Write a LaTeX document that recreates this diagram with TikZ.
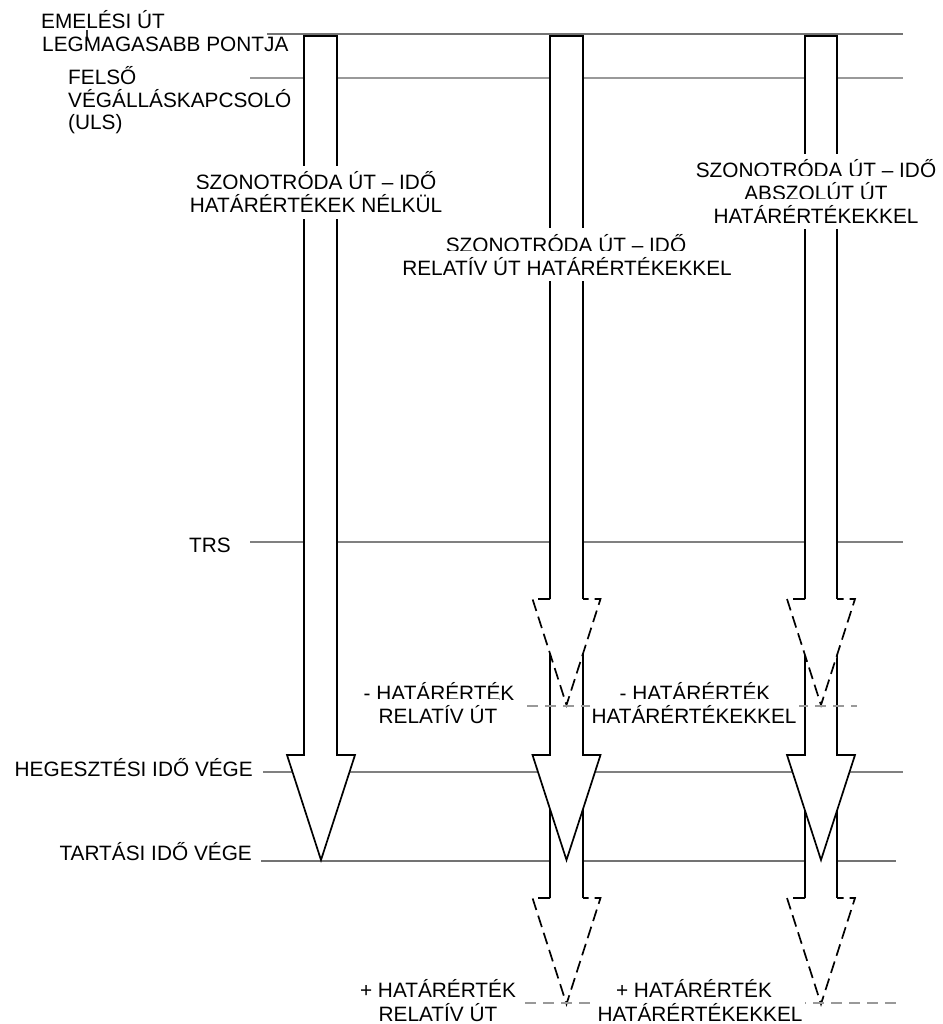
\documentclass[tikz,border=0pt]{standalone}
\usepackage{fontspec}
\setmainfont{Liberation Sans}
\begin{document}
\begin{tikzpicture}[x=1pt,y=-1pt,
  gline/.style={draw=black!50, line width=1.3pt},
  aline/.style={draw=black, line width=1.7pt, line join=miter},
  adash/.style={aline, dash pattern=on 12pt off 6pt},
  gdash/.style={draw=black!40, line width=1.3pt, dash pattern=on 11pt off 7pt},
  lbl/.style={font=\fontsize{20.8}{23}\selectfont, inner sep=0pt, anchor=base},
  lblw/.style={lbl, fill=white, inner xsep=2pt, inner ysep=6pt},
]
\useasboundingbox (0,0) rectangle (942,1024);

% ---------- level lines (under the arrows)
\coordinate (topA) at (267,34);  \coordinate (topB) at (903,34);
\coordinate (ulsA) at (250,78);  \coordinate (ulsB) at (903,78);
\coordinate (trsA) at (250,542); \coordinate (trsB) at (903,542);
\coordinate (hegA) at (263,772); \coordinate (hegB) at (903,772);
\coordinate (tarA) at (261,861); \coordinate (tarB) at (896,861);
\draw[gline, line width=1.8pt, draw=black!55] (topA) -- (topB);
\draw[gline, draw=black!40] (ulsA) -- (ulsB);
\draw[gline] (trsA) -- (trsB);
\draw[gline] (hegA) -- (hegB);
\draw[gline, line width=2pt, draw=black!55] (tarA) -- (tarB);

% ---------- arrow 1 (no limits)
\draw[aline, fill=white] (304,36) -- (337,36) -- (337,755) -- (355,755)
  -- (321,860) -- (287,755) -- (304,755) -- cycle;

% ---------- arrow 2 (relative limits), cx = 566.5
% lower (+ limit) part
\fill[white] (550,780) -- (583,780) -- (583,898) -- (600.5,898) -- (566.5,1004)
  -- (532.5,898) -- (550,898) -- cycle;
\draw[aline] (550,780) -- (550,898) (583,780) -- (583,898);
\draw[adash] (550,898) -- (532.5,898) -- (566.5,1004) -- (600.5,898) -- (583,898);
% middle part
\draw[aline, fill=white] (550,640) -- (550,755) -- (532.5,755) -- (566.5,860)
  -- (600.5,755) -- (583,755) -- (583,640);
% upper (- limit) part
\fill[white] (550,36) -- (583,36) -- (583,599) -- (600.5,599) -- (566.5,705)
  -- (532.5,599) -- (550,599) -- cycle;
\draw[aline] (550,599) -- (550,36) -- (583,36) -- (583,599);
\draw[adash] (550,599) -- (532.5,599) -- (566.5,705) -- (600.5,599) -- (583,599);

% ---------- arrow 3 (absolute limits), cx = 821
\fill[white] (805,780) -- (837,780) -- (837,898) -- (855,898) -- (821,1004)
  -- (787,898) -- (805,898) -- cycle;
\draw[aline] (805,780) -- (805,898) (837,780) -- (837,898);
\draw[adash] (805,898) -- (787,898) -- (821,1004) -- (855,898) -- (837,898);
\draw[aline, fill=white] (805,640) -- (805,755) -- (787,755) -- (821,860)
  -- (855,755) -- (837,755) -- (837,640);
\fill[white] (805,36) -- (837,36) -- (837,599) -- (855,599) -- (821,705)
  -- (787,599) -- (805,599) -- cycle;
\draw[aline] (805,599) -- (805,36) -- (837,36) -- (837,599);
\draw[adash] (805,599) -- (787,599) -- (821,705) -- (855,599) -- (837,599);

% ---------- limit lines (dashed, over the arrows)
\coordinate (limMA) at (527,706); \coordinate (limMB) at (857,706);
\coordinate (limPA) at (525,1003); \coordinate (limPB) at (896,1003);
\draw[gdash] (limMA) -- (limMB);
\draw[gdash] (limPA) -- (limPB);

% small stray tick in the top label
\coordinate (tickA) at (87,30); \coordinate (tickB) at (87,41);
\draw[black!80, line width=1.1pt] (tickA) -- (tickB);

% ---------- left labels
\node[lbl, anchor=base west] (em1) at (41,29) {EMELÉSI ÚT};
\node[lbl, anchor=base west] (em2) at (42,52) {LEGMAGASABB PONTJA};
\node[lbl, anchor=base west] (fe1) at (68,85) {FELSŐ};
\node[lbl, anchor=base west] (fe2) at (68,107.5) {VÉGÁLLÁSKAPCSOLÓ};
\node[lbl, anchor=base west] (fe3) at (68,130) {(ULS)};
\node[lbl, anchor=base west] (trs) at (189,552) {TRS};
\node[lbl, anchor=base east] (heg) at (253,776) {HEGESZTÉSI IDŐ VÉGE};
\node[lbl, anchor=base east] (tar) at (252,860) {TARTÁSI IDŐ VÉGE};

% ---------- arrow titles
\node[lblw] (a1t1) at (316,190) {SZONOTRÓDA ÚT – IDŐ};
\node[lblw] (a1t2) at (316,213) {HATÁRÉRTÉKEK NÉLKÜL};
\node[lblw] (a2t1) at (566,252) {SZONOTRÓDA ÚT – IDŐ};
\node[lblw] (a2t2) at (567,275) {RELATÍV ÚT HATÁRÉRTÉKEKKEL};
\node[lblw] (a3t1) at (816,178) {SZONOTRÓDA ÚT – IDŐ};
\node[lblw] (a3t2) at (816,200.5) {ABSZOLÚT ÚT};
\node[lblw] (a3t3) at (816,223) {HATÁRÉRTÉKEKKEL};

% ---------- limit labels
\node[lblw] (mr1) at (439,700) {- HATÁRÉRTÉK};
\node[lblw] (mr2) at (438,723) {RELATÍV ÚT};
\node[lblw] (ma1) at (695,700) {- HATÁRÉRTÉK};
\node[lblw] (ma2) at (694,723) {HATÁRÉRTÉKEKKEL};
\node[lblw] (pr1) at (438,997) {+ HATÁRÉRTÉK};
\node[lblw] (pr2) at (438,1021) {RELATÍV ÚT};
\node[lblw] (pa1) at (694,997) {+ HATÁRÉRTÉK};
\node[lblw] (pa2) at (700,1021) {HATÁRÉRTÉKEKKEL};
\end{tikzpicture}
\end{document}
